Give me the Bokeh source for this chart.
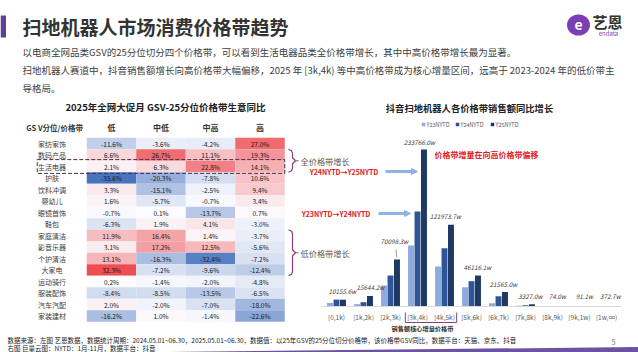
from bokeh.plotting import figure
from bokeh.models import Range1d, ColumnDataSource, Arrow, NormalHead
from bokeh.core.properties import value
from bokeh.transform import dodge
from bokeh.embed import file_html
from bokeh.resources import INLINE

# ---------------- data ----------------
price_bands = ["低", "中低", "中高", "高"]
categories = ["家纺家饰", "数码产品", "生活电器", "护肤", "饮料冲调", "婴幼儿", "眼镜首饰", "鞋包",
              "家庭清洁", "影音乐器", "个护清洁", "大家电", "运动骑行", "服装配饰", "汽车汽配", "家装建材"]
yoy_low = [-11.6, 6.6, 2.1, -35.6, 3.3, 1.6, -0.7, -6.3, 11.9, 3.1, 13.1, 32.3, 0.2, -8.4, 2.0, -16.2]
yoy_midlow = [-3.6, 26.7, 6.3, -20.3, -15.1, -5.7, 0.1, 1.9, 16.4, 17.2, -16.3, -7.2, -1.4, -8.5, -2.0, 1.0]
yoy_midhigh = [-4.2, 11.1, 22.8, -7.8, -2.5, -0.7, -13.7, 4.1, 1.4, 12.5, -32.4, -9.6, -2.0, -13.5, -7.0, -1.4]
yoy_high = [27.0, 19.3, 14.1, 10.6, 9.4, 3.4, 0.7, -3.0, -3.7, -5.6, -7.2, -12.4, -4.8, -6.5, -18.0, -22.6]

sales_bands = ["[0,1k)", "[1k,2k)", "[2k,3k)", "[3k,4k)", "[4k,5k)", "[5k,6k)", "[6k,7k)",
               "[7k,8k)", "[8k,9k)", "[9k,1w)", "[1w,∞)"]
y23 = [5200, 3500, 31300, 91000, 59600, 28700, 4900, 1200, 150, 100, 400]
y24 = [10300, 6400, 46200, 141500, 86900, 37700, 15300, 1800, 100, 150, 500]
y25 = [10155.6, 15644.2, 70098.3, 233766.0, 121973.7, 46116.1, 21565.0, 3327.0, 74.0, 91.1, 372.7]
series_names = ["Y23NYTD", "Y24NYTD", "Y25NYTD"]

highlight_row = "生活电器"
all_growth_rows = ["数码产品", "生活电器"]
low_growth_rows = ["家庭清洁", "影音乐器", "个护清洁", "大家电"]
core_bands = ["[3k,4k)", "[4k,5k)"]

# ---------------- layout / style ----------------
W, H = 638, 352
HM_X0, HM_DX = 111, 49.5       # heatmap column 0 centre, column pitch (px)
HM_Y0, HM_DY = 143, 11.5       # heatmap row 0 centre, row pitch (px)
B_X0, B_DX = 336, 27           # bar group 0 centre, group pitch (px)
B_BASE, B_K = 306, 1490        # bar baseline (px from top), value per px
FONT = value("Noto Sans CJK SC")
C_Y23, C_Y24, C_Y25 = "#8faadc", "#2f5597", "#1f3864"
PURPLE = "#5b3f99"
BRACE = "#8e3e7e"
RED = "#e02020"

p = figure(width=W, height=H, x_range=Range1d(0, W), y_range=Range1d(H, 0),
           output_backend="svg", toolbar_location=None, min_border=0,
           x_axis_location=None, y_axis_location=None)
p.grid.visible = False
p.outline_line_color = None
p.background_fill_color = "white"
p.border_fill_color = "white"

p.extra_x_ranges = {
    "hx": Range1d(-HM_X0 / HM_DX, (W - HM_X0) / HM_DX),
    "bx": Range1d(-B_X0 / B_DX, (W - B_X0) / B_DX),
}
p.extra_y_ranges = {
    "hy": Range1d((H - HM_Y0) / HM_DY, -HM_Y0 / HM_DY),
    "by": Range1d(-(H - B_BASE) * B_K, B_BASE * B_K),
}


def txt(x, y, s, size, color="#333333", align="left", style="normal", baseline="middle", **kw):
    p.text(x=[x], y=[y], text=[s], text_font=FONT, text_font_size=f"{size}px",
           text_color=color, text_align=align, text_font_style=style,
           text_baseline=baseline, **kw)


# ---------------- header ----------------
p.quad(left=[0], right=[5.5], top=[15], bottom=[37], fill_color=PURPLE, line_color=None)
txt(22, 26, "扫地机器人市场消费价格带趋势", 19, "#333333", style="bold")
txt(22, 51, "以电商全网品类GSV的25分位切分四个价格带，可以看到生活电器品类全价格带增长，其中中高价格带增长最为显著。",
    9.5, "#404040")
txt(22, 69, "扫地机器人赛道中，抖音销售额增长向高价格带大幅偏移，2025 年 [3k,4k) 等中高价格带成为核心增量区间，远高于 2023-2024 年的低价带主",
    9.5, "#404040")
txt(22, 87, "导格局。", 9.5, "#404040")

# logo
p.ellipse(x=[578], y=[24.5], width=[23], height=[21], fill_color="#7b3fb5", line_color=None)
txt(578, 24, "e", 14, "white", align="center", style="bold")
txt(607, 21, "艺恩", 15, "#333333", align="center", style="bold")
txt(608, 33, "endata", 6, "#7b3fb5", align="center")

# ---------------- heatmap ----------------
def heat_color(v):
    white = (252, 252, 255)
    if v >= 0:
        t, end = min(v / 32.3, 1.0), (236, 78, 82)
    else:
        t, end = min(-v / 35.6, 1.0), (72, 116, 190)
    r, g, b = (round(white[i] + (end[i] - white[i]) * t) for i in range(3))
    return f"#{r:02x}{g:02x}{b:02x}"


cols = [yoy_low, yoy_midlow, yoy_midhigh, yoy_high]
hx, hy, hv, hc, ht = [], [], [], [], []
for ci, col in enumerate(cols):
    for ri, v in enumerate(col):
        hx.append(ci)
        hy.append(ri)
        hv.append(v)
        hc.append(heat_color(v))
        ht.append(f"{v:.1f}%")
hsrc = ColumnDataSource(dict(x=hx, y=hy, v=hv, c=hc, t=ht))
p.rect(x="x", y="y", width=1, height=1, fill_color="c", line_color=None, source=hsrc,
       x_range_name="hx", y_range_name="hy")
p.text(x="x", y="y", text="t", source=hsrc, x_range_name="hx", y_range_name="hy",
       text_font=FONT, text_font_size="6.5px", text_color="#1a1a1a", text_align="center",
       text_baseline="middle")

p.text(x=[-1.2] * len(categories), y=list(range(len(categories))), text=categories,
       x_range_name="hx", y_range_name="hy", text_font=FONT, text_font_size="7px",
       text_color="#404040", text_align="center", text_baseline="middle")
p.text(x=list(range(4)), y=[-1.4] * 4, text=price_bands, x_range_name="hx", y_range_name="hy",
       text_font=FONT, text_font_size="8px", text_color="#333333", text_align="center",
       text_baseline="middle", text_font_style="bold")
p.text(x=[-1.15], y=[-1.4], text=["GS V分位/价格带"], x_range_name="hx", y_range_name="hy",
       text_font=FONT, text_font_size="7.5px", text_color="#333333", text_align="center",
       text_baseline="middle", text_font_style="bold")
txt(165, 106, "2025年全网大促月 GSV-25分位价格带生意同比", 9.5, "#222222", align="center", style="bold")

hr = categories.index(highlight_row)
p.quad(left=[-1.5], right=[3.5], top=[hr - 0.6], bottom=[hr + 0.6], fill_color=None,
       line_color="#4a2d4f", line_dash="4 2", line_width=1, x_range_name="hx", y_range_name="hy")


def brace(rows, label):
    top = HM_Y0 + HM_DY * (min(categories.index(r) for r in rows) - 0.5)
    bot = HM_Y0 + HM_DY * (max(categories.index(r) for r in rows) + 0.5)
    mid = (top + bot) / 2
    xs = [288, 291, 292, 292, 295, 292, 292, 291, 288]
    ys = [top, top + 1.5, top + 4, mid - 3, mid, mid + 3, bot - 4, bot - 1.5, bot]
    p.line(xs, ys, line_color=BRACE, line_width=1.2)
    p.line([295, 298], [mid, mid], line_color="#666666", line_width=1)
    txt(300, mid, label, 8.2, "#595959")


brace(all_growth_rows, "全价格带增长")
brace(low_growth_rows, "低价格带增长")

# ---------------- bar chart ----------------
txt(469, 107, "抖音扫地机器人各价格带销售额同比增长", 9.3, "#222222", align="center", style="bold")

bsrc = ColumnDataSource(dict(i=list(range(len(sales_bands))), y23=y23, y24=y24, y25=y25))
for off, key, col in [(-0.24, "y23", C_Y23), (0.0, "y24", C_Y24), (0.24, "y25", C_Y25)]:
    p.vbar(x=dodge("i", off), top=key, width=0.22, bottom=0, source=bsrc, fill_color=col,
           line_color=None, x_range_name="bx", y_range_name="by")

p.segment(x0=[-0.55], y0=[0], x1=[10.55], y1=[0], line_color="#d9d9d9", line_width=1,
          x_range_name="bx", y_range_name="by")

p.text(x=list(range(len(sales_bands))), y=[0] * len(sales_bands), text=sales_bands,
       x_range_name="bx", y_range_name="by", y_offset=10, text_font=FONT,
       text_font_size="6.5px", text_color="#595959", text_align="center", text_baseline="middle")

lab_dx = [6, 7, 4, 2, 1, 6, 5, 5, 5, 5, 4]
lab_dy = [-8, -9, -18, -7, -8, -8, -8, -8, -10, -10, -10]
for i, v in enumerate(y25):
    p.text(x=[i], y=[v], text=[f"{v:.1f}w"], x_range_name="bx", y_range_name="by",
           x_offset=lab_dx[i], y_offset=lab_dy[i], text_font=FONT, text_font_size="6.3px",
           text_font_style="italic", text_color="#404040", text_align="center",
           text_baseline="middle")
i70 = 2
p.segment(x0=[i70 + 0.2], y0=[y25[i70] + 10 * B_K], x1=[i70 + 0.24], y1=[y25[i70] + 2 * B_K],
          line_color="#7f7f7f", line_width=0.8, x_range_name="bx", y_range_name="by")

# legend
for lx, name, col in zip([423, 457, 492], series_names, [C_Y23, C_Y24, C_Y25]):
    p.scatter(x=[lx], y=[124], marker="square", size=3.5, fill_color=col, line_color=None)
    txt(lx + 3, 124, name, 5.5, "#595959")

# annotations
txt(434, 154, "价格带增量在向高价格带偏移", 8, RED, style="bold")
txt(343.5, 171, "Y24NYTD→Y25NYTD", 7, RED, align="center", style="bold")
txt(335.5, 213, "Y23NYTD→Y24NYTD", 7, RED, align="center", style="bold")
for xs, xe, yy in [(385, 417, 171), (378, 410, 213)]:
    p.add_layout(Arrow(end=NormalHead(size=6, fill_color="#8db3e2", line_color="#8db3e2"),
                       x_start=xs, y_start=yy, x_end=xe, y_end=yy,
                       line_color="#8db3e2", line_width=3))

c0 = sales_bands.index(core_bands[0])
c1 = sales_bands.index(core_bands[-1])
p.line(x=[c0 - 0.45, c0 - 0.45, c1 + 0.45, c1 + 0.45], y=[-6 * B_K, -16 * B_K, -16 * B_K, -6 * B_K],
       line_color=BRACE, line_width=1, x_range_name="bx", y_range_name="by")
txt(422, 328, "销售额核心增量价格带", 6.2, "#333333", align="center", style="bold")

# ---------------- footer ----------------
txt(7, 339, "数据来源：左图 艺恩数据，数据统计周期：2024.05.01~06.30，2025.05.01~06.30，数据值：以25年GSV的25分位切分价格带，该价格带GSV同比，数据平台：天猫、京东、抖音",
    6.5, "#222222")
txt(7, 347.5, "右图 巨量云图：NYTD：1月-11月，数据平台：抖音", 6.5, "#222222")
txt(613, 341, "5", 8, "#888888", align="center")
p.patch(x=[120, 638, 638, 120], y=[352, 346.5, 352, 352], fill_color=PURPLE, line_color=None,
        fill_alpha=0.9)

open("out.html", "w").write(file_html(p, INLINE))
